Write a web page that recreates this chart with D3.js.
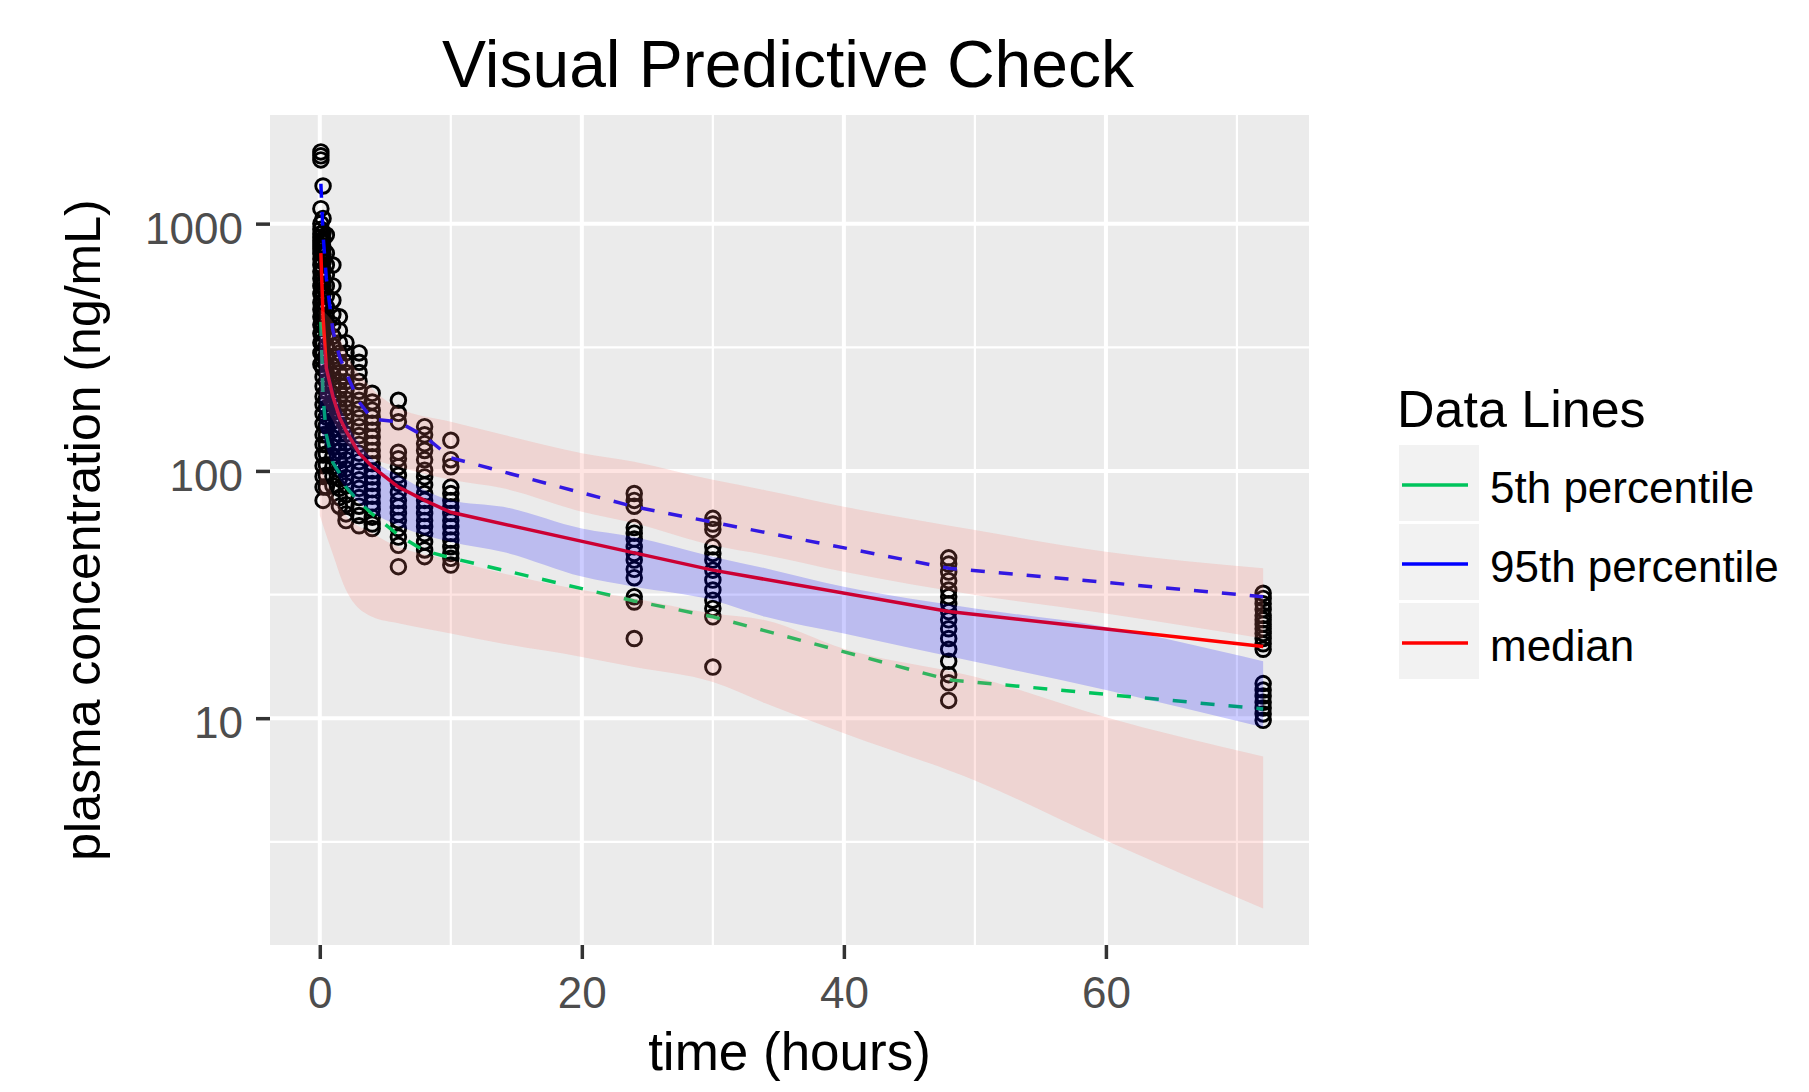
<!DOCTYPE html>
<html lang="en">
<head>
    <meta charset="UTF-8">
    <title>Visual Predictive Check</title>
    <script src="https://d3js.org/d3.v7.min.js"></script>
    <style>
        body {
            margin: 0;
            background-color: #ffffff;
            font-family: "Liberation Sans", Arial, sans-serif;
        }
        .axis text {
            font-family: "Liberation Sans", Arial, sans-serif;
            font-size: 44px;
            fill: #4d4d4d;
        }
        .axis line {
            stroke: #333333;
            stroke-width: 3.5;
        }
    </style>
</head>
<body>
    <svg id="vpc"></svg>

    <script>
        // observed concentrations, one list per nominal sampling time
        const obsTime = [0.083, 0.25, 0.5, 1, 1.5, 2, 3, 4, 6, 8, 10, 24, 30, 48, 72];
        const obsConc = [
            [1950, 1880, 1810, 1150, 1000, 950, 910, 880, 850, 820, 790, 760, 720, 680, 640, 600, 560, 520, 480, 450, 420, 390, 360, 330, 300, 270],
            [1420, 1050, 920, 860, 800, 750, 700, 650, 600, 560, 520, 480, 450, 420, 390, 360, 330, 300, 280, 260, 240, 220, 200, 185, 170, 155, 140, 128, 116, 105, 95, 86, 76],
            [900, 760, 680, 620, 560, 510, 460, 420, 380, 350, 320, 295, 270, 250, 230, 210, 195, 180, 165, 152, 140, 128, 117, 106, 96, 86],
            [680, 560, 490, 430, 390, 350, 320, 290, 265, 245, 225, 205, 190, 175, 160, 148, 136, 125, 114, 104, 95, 87],
            [420, 370, 330, 300, 275, 250, 230, 212, 195, 180, 166, 153, 141, 130, 120, 110, 101, 93, 85, 78, 72],
            [330, 300, 275, 250, 230, 212, 195, 180, 166, 153, 141, 130, 120, 111, 102, 94, 87, 80, 73, 67, 63],
            [300, 275, 250, 230, 210, 193, 178, 164, 151, 139, 128, 118, 109, 100, 92, 85, 78, 72, 66, 60],
            [206, 190, 176, 165, 156, 146, 137, 129, 121, 114, 107, 100, 94.6, 89, 84, 79, 74, 70, 65, 61, 58.5],
            [193, 171, 158, 119, 112, 104, 96, 89, 82, 76, 71.6, 67.3, 63, 58.5, 54, 50, 41],
            [151, 140, 129, 121, 111, 100.7, 94.6, 87.7, 81, 76, 71.6, 67.3, 63, 59.4, 55.8, 51.6, 47.9, 45],
            [133, 111, 104, 86, 81, 76, 71.6, 67.3, 63, 59.4, 55.8, 52.5, 49.3, 46.4, 44.3, 41.6],
            [81, 76, 72, 59, 56, 53, 49.3, 46.4, 43.6, 40, 37, 31, 29.5, 21],
            [64.3, 61, 58, 49.3, 46.4, 43.6, 39.7, 36.2, 33, 30, 27.8, 25.7, 16.1],
            [44.5, 42, 39, 36, 33, 31, 29, 27, 25, 23, 21, 19, 17, 15, 13.9, 11.8],
            [32, 30.5, 29, 27.5, 26, 25, 24, 23, 22, 21, 20, 19, 13.8, 13, 12.3, 11.6, 11, 10.4, 9.8]
        ];

        // observed percentiles at the same times
        const p05 = [400, 200, 140, 108, 98, 86, 75, 67, 55, 47.5, 44.5, 29.8, 25.7, 14.3, 10.9];
        const p50 = [760, 420, 260, 200, 165, 145, 118, 104, 86, 76, 68, 46.6, 39.7, 27, 19.5];
        const p95 = [1450, 900, 600, 370, 290, 250, 190, 162, 158, 138, 113, 71.6, 62, 40.4, 31];

        // simulated confidence intervals of the percentiles
        const ribTime = [0, 1, 2, 4, 6, 10, 14, 20, 24, 30, 34, 40, 50, 60, 72];
        const hiCI95 = [450, 400, 300, 215, 180, 158, 140, 118, 109, 92, 83.6, 71.6, 57.7, 47.1, 40.4];
        const loCI95 = [200, 160, 130, 112, 104, 92, 85, 68.4, 61.4, 50, 45.7, 39.1, 31.5, 26.5, 21];
        const hiCI50 = [400, 220, 160, 112, 96, 76, 71.6, 58.5, 54, 45, 40.4, 34, 27.8, 23.4, 17];
        const loCI50 = [150, 105, 85, 68, 60, 51.6, 47, 37.4, 34, 30, 25.7, 22, 16.9, 13, 9.2];
        const hiCI05 = [105, 80, 66, 56, 49.3, 43.6, 38.5, 33, 30.5, 26.5, 24.9, 19.1, 14.7, 10.1, 7];
        const loCI05 = [66, 46, 33, 25.7, 24.2, 22, 20, 17.7, 16.1, 14, 11.5, 8.7, 5.6, 3.2, 1.7];

        const xTicks = [0, 20, 40, 60];
        const xMinor = [10, 30, 50, 70];
        const yTicks = [10, 100, 1000];
        const yMinor = [Math.pow(10, 0.5), Math.pow(10, 1.5), Math.pow(10, 2.5)];

        const legendLabels = ["5th percentile", "95th percentile", "median"];
        const legendColors = ["#00c45c", "#0000ff", "#ff0000"];

        const W = 1809, H = 1092;
        const panel = { left: 270, right: 1309, top: 115, bottom: 945 };

        const svg = d3.select("#vpc")
            .attr("width", W)
            .attr("height", H);

        const x = d3.scaleLinear()
            .domain([-3.8, 75.5])
            .range([panel.left, panel.right]);

        const y = d3.scaleLog()
            .domain([1.21, 2750])
            .range([panel.bottom, panel.top]);

        // panel background + grid
        svg.append("rect")
            .attr("x", panel.left)
            .attr("y", panel.top)
            .attr("width", panel.right - panel.left)
            .attr("height", panel.bottom - panel.top)
            .attr("fill", "#ebebeb");

        const grid = svg.append("g");
        grid.selectAll(".ymin").data(yMinor).enter().append("line")
            .attr("x1", panel.left).attr("x2", panel.right)
            .attr("y1", d => y(d)).attr("y2", d => y(d))
            .attr("stroke", "#fff").attr("stroke-width", 2.2);
        grid.selectAll(".xmin").data(xMinor).enter().append("line")
            .attr("y1", panel.top).attr("y2", panel.bottom)
            .attr("x1", d => x(d)).attr("x2", d => x(d))
            .attr("stroke", "#fff").attr("stroke-width", 2.2);
        grid.selectAll(".ymaj").data(yTicks).enter().append("line")
            .attr("x1", panel.left).attr("x2", panel.right)
            .attr("y1", d => y(d)).attr("y2", d => y(d))
            .attr("stroke", "#fff").attr("stroke-width", 4);
        grid.selectAll(".xmaj").data(xTicks).enter().append("line")
            .attr("y1", panel.top).attr("y2", panel.bottom)
            .attr("x1", d => x(d)).attr("x2", d => x(d))
            .attr("stroke", "#fff").attr("stroke-width", 4);

        // observed points
        const points = [];
        obsTime.forEach((t, i) => obsConc[i].forEach(c => points.push({ t, c })));

        svg.append("g").selectAll("circle")
            .data(points)
            .enter().append("circle")
            .attr("cx", d => x(d.t))
            .attr("cy", d => y(d.c))
            .attr("r", 7.3)
            .attr("fill", "none")
            .attr("stroke", "#000")
            .attr("stroke-width", 2.9);

        // percentile lines
        const line = d3.line()
            .x(d => x(d[0]))
            .y(d => y(d[1]));

        const series = [
            { values: p05, color: legendColors[0], dash: "14,14" },
            { values: p95, color: legendColors[1], dash: "14,14" },
            { values: p50, color: legendColors[2], dash: null }
        ];

        series.forEach(s => {
            svg.append("path")
                .datum(obsTime.map((t, i) => [t, s.values[i]]))
                .attr("fill", "none")
                .attr("stroke", s.color)
                .attr("stroke-width", 3.5)
                .attr("stroke-dasharray", s.dash)
                .attr("d", line);
        });

        // ribbons drawn on top with transparency
        const area = d3.area()
            .x(d => x(d.t))
            .y0(d => y(d.lo))
            .y1(d => y(d.hi))
            .curve(d3.curveMonotoneX);

        const ribbons = [
            { hi: hiCI95, lo: loCI95, color: "#f8766d" },
            { hi: hiCI05, lo: loCI05, color: "#f8766d" },
            { hi: hiCI50, lo: loCI50, color: "#0000ff" }
        ];

        ribbons.forEach(r => {
            svg.append("path")
                .datum(ribTime.map((t, i) => ({ t, hi: r.hi[i], lo: r.lo[i] })))
                .attr("fill", r.color)
                .attr("fill-opacity", 0.2)
                .attr("d", area);
        });

        // axes
        svg.append("g")
            .attr("class", "axis")
            .attr("transform", `translate(${panel.left},0)`)
            .call(d3.axisLeft(y).tickValues(yTicks).tickFormat(d3.format("d")).tickSize(14).tickPadding(13))
            .call(g => g.select(".domain").remove())
            .call(g => g.selectAll("text").attr("dy", "0.44em"));

        svg.append("g")
            .attr("class", "axis")
            .attr("transform", `translate(0,${panel.bottom})`)
            .call(d3.axisBottom(x).tickValues(xTicks).tickSize(14).tickPadding(18))
            .call(g => g.select(".domain").remove());

        // titles
        svg.append("text")
            .attr("x", 788)
            .attr("y", 87)
            .attr("text-anchor", "middle")
            .attr("font-size", 66)
            .attr("fill", "#000")
            .text("Visual Predictive Check");

        svg.append("text")
            .attr("x", (panel.left + panel.right) / 2)
            .attr("y", 1070)
            .attr("text-anchor", "middle")
            .attr("font-size", 53)
            .attr("fill", "#000")
            .text("time (hours)");

        svg.append("text")
            .attr("transform", `translate(100,${(panel.top + panel.bottom) / 2}) rotate(-90)`)
            .attr("text-anchor", "middle")
            .attr("font-size", 50)
            .attr("fill", "#000")
            .text("plasma concentration (ng/mL)");

        // legend
        const legend = svg.append("g");
        legend.append("text")
            .attr("x", 1397)
            .attr("y", 427)
            .attr("font-size", 52)
            .attr("fill", "#000")
            .text("Data Lines");

        const keyH = 79;
        legendLabels.forEach((label, i) => {
            const top = 445 + i * keyH;
            legend.append("rect")
                .attr("x", 1399)
                .attr("y", top)
                .attr("width", 80)
                .attr("height", 76)
                .attr("fill", "#f2f2f2");
            legend.append("line")
                .attr("x1", 1402).attr("x2", 1468)
                .attr("y1", top + 40).attr("y2", top + 40)
                .attr("stroke", legendColors[i])
                .attr("stroke-width", 3.5);
            legend.append("text")
                .attr("x", 1490)
                .attr("y", top + 58)
                .attr("font-size", 44)
                .attr("fill", "#000")
                .text(label);
        });
    </script>
</body>
</html>
